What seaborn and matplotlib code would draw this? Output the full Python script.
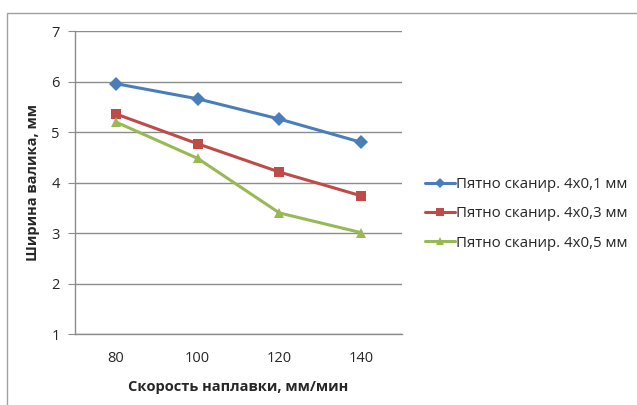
import matplotlib
matplotlib.use("Agg")
import matplotlib.pyplot as plt
import seaborn as sns
import pandas as pd
from matplotlib.patches import Rectangle
from matplotlib.ticker import FixedLocator

# data
speeds = ["80", "100", "120", "140"]
spot_01 = [5.96, 5.66, 5.26, 4.80]
spot_03 = [5.36, 4.77, 4.21, 3.74]
spot_05 = [5.20, 4.48, 3.40, 3.01]
series_names = ["Пятно сканир. 4х0,1 мм",
                "Пятно сканир. 4х0,3 мм",
                "Пятно сканир. 4х0,5 мм"]

rows = []
for name, vals in zip(series_names, [spot_01, spot_03, spot_05]):
    for i, v in enumerate(vals):
        rows.append({"pos": i, "width": v, "series": name})
df = pd.DataFrame(rows)

sns.set_style("white")
plt.rcParams["font.family"] = ["Open Sans", "DejaVu Sans"]

colors = ["#4A7EBB", "#BE4B48", "#98B954"]
marks = ["D", "s", "^"]

fig = plt.figure(figsize=(6.37, 4.05), dpi=100)
ax = fig.add_axes([0.118, 0.175, 0.513, 0.748])

sns.lineplot(data=df, x="pos", y="width", hue="series", style="series",
             palette=dict(zip(series_names, colors)),
             markers=dict(zip(series_names, marks)),
             dashes=False, linewidth=2.2, markersize=7,
             markeredgewidth=0, ax=ax)

ax.set_xlim(-0.5, 3.5)
ax.set_ylim(1, 7)
ax.set_yticks(range(1, 8))
ax.yaxis.grid(True, color="#8c8c8c", linewidth=1)
ax.set_axisbelow(True)
ax.set_xticks(range(len(speeds)))
ax.set_xticklabels(speeds)
ax.xaxis.set_minor_locator(FixedLocator([-0.5, 0.5, 1.5, 2.5, 3.5]))
ax.tick_params(axis="x", which="major", length=0, labelsize=10.5, pad=12)
ax.tick_params(axis="x", which="minor", length=5, color="#8c8c8c", direction="out")
ax.tick_params(axis="y", length=5, color="#8c8c8c", direction="out",
               labelsize=10.5, left=True, pad=6)
for s in ["top", "right"]:
    ax.spines[s].set_visible(False)
for s in ["left", "bottom"]:
    ax.spines[s].set_color("#8c8c8c")
    ax.spines[s].set_linewidth(1)

ax.set_xlabel("Скорость наплавки, мм/мин", fontsize=10.5, fontweight="bold",
              labelpad=10)
ax.set_ylabel("Ширина валика, мм", fontsize=10.5, fontweight="bold", labelpad=8)

handles, labels = ax.get_legend_handles_labels()
ax.legend(handles, labels, loc="center left", bbox_to_anchor=(1.07, 0.397),
          frameon=False, fontsize=10.8, handlelength=2.0, handletextpad=0.05,
          labelspacing=0.95, borderaxespad=0, borderpad=0, markerscale=0.8)

fig.patches.append(Rectangle((0.011, -0.01), 1.0, 0.978, transform=fig.transFigure,
                             fill=False, edgecolor="#a0a0a0", linewidth=1))

fig.savefig("out.png", dpi=100)
